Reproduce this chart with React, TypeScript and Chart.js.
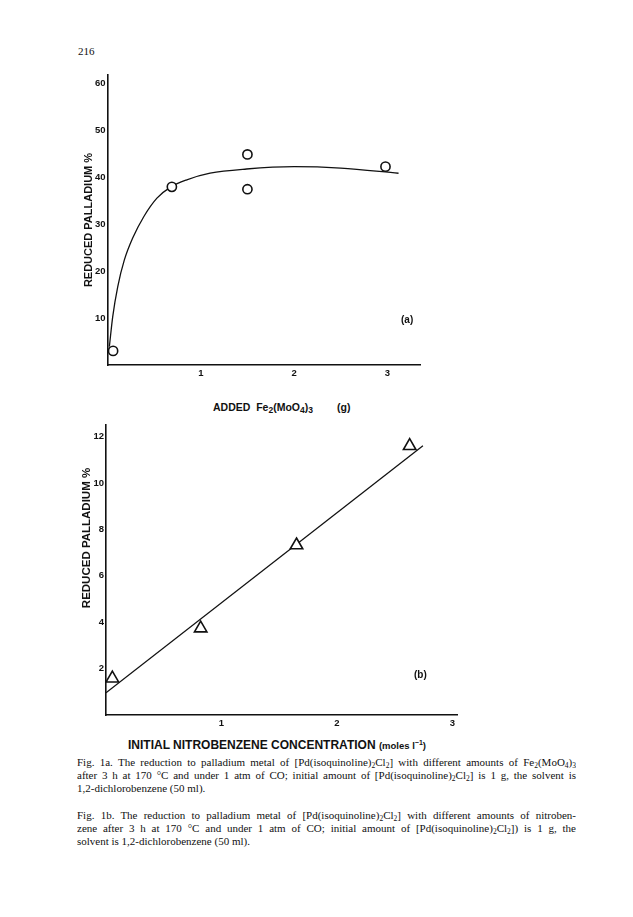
import React, { useEffect, useRef } from "react";
import { Chart, registerables } from "chart.js";

Chart.register(...registerables);

// ---- Fig 1a data: reduced palladium % vs added Fe2(MoO4)3 (g)
const A_POINT_X = [0.06, 0.69, 1.5, 1.5, 2.98];
const A_POINT_Y = [3.0, 37.9, 44.8, 37.4, 42.2];
const A_CURVE_X = [0.02, 0.056, 0.11, 0.18, 0.27, 0.39, 0.53, 0.68, 0.85, 1.1, 1.49, 2.0, 2.5, 3.12];
const A_CURVE_Y = [3.9, 10.3, 16.7, 22.3, 27.0, 31.6, 35.5, 37.9, 39.4, 40.8, 41.7, 42.2, 41.9, 40.8];
const A_Y_TICKS = [10, 20, 30, 40, 50, 60];
const A_X_TICKS = [1, 2, 3];

// ---- Fig 1b data: reduced palladium % vs initial nitrobenzene concentration
const B_POINT_X = [0.055, 0.82, 1.65, 2.63];
const B_POINT_Y = [1.58, 3.74, 7.32, 11.6];
const B_LINE_X = [0, 2.745];
const B_LINE_Y = [0.96, 11.61];
const B_Y_TICKS = [2, 4, 6, 8, 10, 12];
const B_X_TICKS = [1, 2, 3];

const Y_TITLE = "REDUCED PALLADIUM %";
const INK = "#111";
const SANS = "'Liberation Sans', Arial, sans-serif";
const SERIF = "'Liberation Serif', 'Times New Roman', serif";

function pts(xs: number[], ys: number[]) {
  return xs.map((x, i) => ({ x, y: ys[i] }));
}

type Cfg = {
  yWidth: number;
  padTop: number;
  padRight: number;
  xMax: number;
  yMax: number;
  xTicks: number[];
  yTicks: number[];
  titleSize: number;
  titlePad: number;
  showTitle: boolean;
  datasets: any[];
};

function makeChart(canvas: HTMLCanvasElement, c: Cfg) {
  return new Chart(canvas, {
    type: "scatter",
    data: { datasets: c.datasets },
    options: {
      responsive: false,
      animation: false,
      devicePixelRatio: 1,
      layout: { padding: { top: c.padTop, right: c.padRight, left: 0, bottom: 0 } },
      plugins: { legend: { display: false }, tooltip: { enabled: false }, title: { display: false } },
      scales: {
        x: {
          type: "linear",
          min: 0,
          max: c.xMax,
          grid: { display: false, drawTicks: false },
          border: { display: true, color: INK, width: 1.6 },
          afterBuildTicks: (s: any) => {
            s.ticks = c.xTicks.map((v) => ({ value: v }));
          },
          afterFit: (s: any) => {
            s.height = 20;
          },
          ticks: {
            color: INK,
            padding: 3,
            maxRotation: 0,
            font: { family: SANS, size: 9.5, weight: "bold" },
            callback: (v: any) => String(v),
          },
        },
        y: {
          type: "linear",
          min: 0,
          max: c.yMax,
          grid: { display: false, drawTicks: false },
          border: { display: true, color: INK, width: 1.6 },
          afterBuildTicks: (s: any) => {
            s.ticks = c.yTicks.map((v) => ({ value: v }));
          },
          afterFit: (s: any) => {
            s.width = c.yWidth;
          },
          ticks: {
            color: INK,
            padding: 2,
            font: { family: SANS, size: 9.5, weight: "bold" },
            callback: (v: any) => String(v),
          },
          title: {
            display: c.showTitle,
            text: Y_TITLE,
            color: INK,
            padding: { top: c.titlePad, bottom: 0 },
            font: { family: SANS, size: c.titleSize, weight: "bold", lineHeight: 1.2 },
          },
        },
      },
    },
  } as any);
}

const Sub = ({ children, size = 7.5 }: { children: any; size?: number }) => (
  <span style={{ fontSize: size + "px", verticalAlign: "-2px", lineHeight: 0 }}>{children}</span>
);
const Sup = ({ children, size = 7.5 }: { children: any; size?: number }) => (
  <span style={{ fontSize: size + "px", verticalAlign: "4px", lineHeight: 0 }}>{children}</span>
);

const lineStyle = (justify: boolean): React.CSSProperties => ({
  height: "13px",
  lineHeight: "13px",
  whiteSpace: justify ? "normal" : "nowrap",
  overflow: "hidden",
  textAlign: justify ? "justify" : "left",
  textAlignLast: justify ? "justify" : "left",
});

export default function App() {
  const refA = useRef<HTMLCanvasElement>(null);
  const refB = useRef<HTMLCanvasElement>(null);

  useEffect(() => {
    const a = makeChart(refA.current!, {
      yWidth: 47.5,
      padTop: 15,
      padRight: 10,
      xMax: 3.35,
      yMax: 61.7,
      xTicks: A_X_TICKS,
      yTicks: A_Y_TICKS,
      titleSize: 11,
      titlePad: 22,
      showTitle: true,
      datasets: [
        {
          label: "points",
          data: pts(A_POINT_X, A_POINT_Y),
          pointStyle: "circle",
          pointRadius: 4.6,
          pointBorderWidth: 1.6,
          pointBorderColor: INK,
          pointBackgroundColor: "#fff",
          showLine: false,
          order: 0,
        },
        {
          label: "fit",
          data: pts(A_CURVE_X, A_CURVE_Y),
          showLine: true,
          borderColor: INK,
          borderWidth: 1.3,
          pointRadius: 0,
          cubicInterpolationMode: "monotone",
          fill: false,
          order: 1,
        },
      ],
    });
    const b = makeChart(refB.current!, {
      yWidth: 46,
      padTop: 10,
      padRight: 10,
      xMax: 3.04,
      yMax: 12.5,
      xTicks: B_X_TICKS,
      yTicks: B_Y_TICKS,
      titleSize: 11.5,
      titlePad: 18,
      showTitle: false,
      datasets: [
        {
          label: "points",
          data: pts(B_POINT_X, B_POINT_Y),
          pointStyle: "triangle",
          pointRadius: 7.2,
          pointBorderWidth: 1.6,
          pointBorderColor: INK,
          pointBackgroundColor: "#fff",
          showLine: false,
          order: 0,
        },
        {
          label: "fit",
          data: pts(B_LINE_X, B_LINE_Y),
          showLine: true,
          borderColor: INK,
          borderWidth: 1.3,
          pointRadius: 0,
          fill: false,
          order: 1,
        },
      ],
    });
    return () => {
      a.destroy();
      b.destroy();
    };
  }, []);

  const abs = (left: number, top: number, extra: React.CSSProperties = {}): React.CSSProperties => ({
    position: "absolute",
    left: left + "px",
    top: top + "px",
    color: INK,
    ...extra,
  });

  const titleFont: React.CSSProperties = {
    fontFamily: SANS,
    fontSize: "10.5px",
    fontWeight: "bold",
    lineHeight: "14px",
    whiteSpace: "pre",
  };

  return (
    <div>
      <div style={abs(78, 44, { fontFamily: SERIF, fontSize: "11px", lineHeight: "14px" })}>216</div>

      <canvas ref={refA} width={370} height={325} style={abs(60, 60)} />
      <div style={abs(401, 313, { fontFamily: SANS, fontSize: "10px", fontWeight: "bold", lineHeight: "14px" })}>(a)</div>

      <div style={abs(213, 400, titleFont)}>
        ADDED  Fe<Sub size={8.5}>2</Sub>(MoO<Sub size={8.5}>4</Sub>)<Sub size={8.5}>3</Sub>
      </div>
      <div style={abs(337, 400, titleFont)}>(g)</div>

      <canvas ref={refB} width={407} height={320} style={abs(60, 415)} />
      <div
        style={abs(-14, 531, {
          width: "200px",
          height: "14px",
          lineHeight: "14px",
          textAlign: "center",
          fontFamily: SANS,
          fontSize: "11.5px",
          fontWeight: "bold",
          whiteSpace: "nowrap",
          transform: "rotate(-90deg)",
          transformOrigin: "100px 7px",
        })}
      >
        {Y_TITLE}
      </div>
      <div style={abs(414, 668, { fontFamily: SANS, fontSize: "10px", fontWeight: "bold", lineHeight: "14px" })}>(b)</div>

      <div style={abs(128, 738, { fontFamily: SANS, fontSize: "12px", fontWeight: "bold", lineHeight: "14px", whiteSpace: "pre" })}>
        INITIAL NITROBENZENE CONCENTRATION <span style={{ fontSize: "9.5px" }}>(moles l<Sup size={7}>−1</Sup>)</span>
      </div>

      <div style={abs(77, 756, { width: "499px", fontFamily: SERIF, fontSize: "11px" })}>
        <div style={lineStyle(true)}>
          Fig. 1a. The reduction to palladium metal of [Pd(isoquinoline)<Sub>2</Sub>Cl<Sub>2</Sub>] with different amounts of Fe<Sub>2</Sub>(MoO<Sub>4</Sub>)<Sub>3</Sub>
        </div>
        <div style={lineStyle(true)}>
          after 3 h at 170 °C and under 1 atm of CO; initial amount of [Pd(isoquinoline)<Sub>2</Sub>Cl<Sub>2</Sub>] is 1 g, the solvent is
        </div>
        <div style={lineStyle(false)}>1,2-dichlorobenzene (50 ml).</div>
        <div style={{ height: "14px" }} />
        <div style={lineStyle(true)}>
          Fig. 1b. The reduction to palladium metal of [Pd(isoquinoline)<Sub>2</Sub>Cl<Sub>2</Sub>] with different amounts of nitroben-
        </div>
        <div style={lineStyle(true)}>
          zene after 3 h at 170 °C and under 1 atm of CO; initial amount of [Pd(isoquinoline)<Sub>2</Sub>Cl<Sub>2</Sub>]) is 1 g, the
        </div>
        <div style={lineStyle(false)}>solvent is 1,2-dichlorobenzene (50 ml).</div>
      </div>
    </div>
  );
}
